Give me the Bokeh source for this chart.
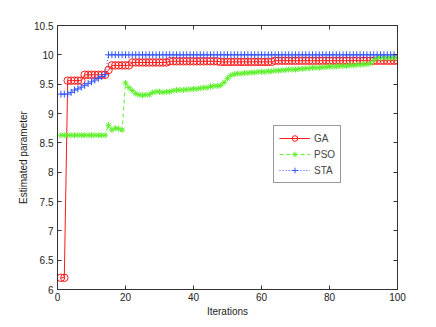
from bokeh.plotting import figure
from bokeh.models import FixedTicker, LinearAxis, Range1d, Legend, LegendItem
from bokeh.embed import file_html
from bokeh.resources import INLINE

iterations = list(range(1, 101))

ga = [6.2, 6.2,
      9.56, 9.56, 9.56, 9.56, 9.56,
      9.66, 9.66, 9.66, 9.66, 9.66, 9.66, 9.66,
      9.74,
      9.82, 9.82, 9.82, 9.82, 9.82, 9.82,
      9.87, 9.87, 9.87, 9.87, 9.87, 9.87, 9.87, 9.87, 9.87, 9.87, 9.87,
      9.89, 9.89, 9.89, 9.89, 9.89, 9.89, 9.89, 9.89, 9.89, 9.89, 9.89, 9.89, 9.89, 9.89, 9.89,
      9.88, 9.88, 9.88, 9.88, 9.88, 9.88, 9.88, 9.88, 9.88, 9.88, 9.88, 9.88, 9.88, 9.88, 9.88, 9.88,
      9.9, 9.9, 9.9, 9.9, 9.9, 9.9, 9.9, 9.9, 9.9, 9.9, 9.9, 9.9, 9.9, 9.9, 9.9, 9.9, 9.9, 9.9, 9.9,
      9.9, 9.9, 9.9, 9.9, 9.9, 9.9, 9.9, 9.9, 9.9, 9.9, 9.9, 9.9, 9.9, 9.9, 9.9, 9.9, 9.9, 9.9]

pso = [8.63, 8.63, 8.63, 8.63, 8.63, 8.63, 8.63, 8.63, 8.63, 8.63, 8.63, 8.63, 8.63, 8.63,
       8.80, 8.72, 8.75, 8.74, 8.72,
       9.52, 9.44, 9.39, 9.34,
       9.32, 9.31, 9.32, 9.32,
       9.36, 9.37, 9.37, 9.36, 9.37, 9.37,
       9.39, 9.40, 9.40, 9.40, 9.41, 9.41, 9.42, 9.42,
       9.43, 9.44, 9.44,
       9.46, 9.47, 9.47, 9.48,
       9.53, 9.60, 9.65,
       9.67, 9.68, 9.68, 9.69, 9.69,
       9.70, 9.70, 9.71, 9.71, 9.71,
       9.72, 9.72, 9.73, 9.73, 9.74, 9.74, 9.75, 9.75, 9.75, 9.76,
       9.76, 9.77, 9.77, 9.78, 9.78, 9.78, 9.79, 9.79, 9.80, 9.80,
       9.80, 9.81, 9.81, 9.81, 9.82, 9.82, 9.83, 9.83, 9.84, 9.84, 9.85,
       9.91,
       9.95, 9.95, 9.95, 9.95, 9.95, 9.95, 9.95]

sta = [9.33, 9.33, 9.33, 9.36, 9.40, 9.42, 9.45, 9.48, 9.51, 9.54, 9.57, 9.60, 9.63, 9.66] + \
      [10.0, 10.0, 10.0, 10.0, 10.0, 10.0, 10.0, 10.0, 10.0, 10.0,
       10.0, 10.0, 10.0, 10.0, 10.0, 10.0, 10.0, 10.0, 10.0, 10.0,
       10.0, 10.0, 10.0, 10.0, 10.0, 10.0, 10.0, 10.0, 10.0, 10.0,
       10.0, 10.0, 10.0, 10.0, 10.0, 10.0, 10.0, 10.0, 10.0, 10.0,
       10.0, 10.0, 10.0, 10.0, 10.0, 10.0, 10.0, 10.0, 10.0, 10.0,
       10.0, 10.0, 10.0, 10.0, 10.0, 10.0, 10.0, 10.0, 10.0, 10.0,
       10.0, 10.0, 10.0, 10.0, 10.0, 10.0, 10.0, 10.0, 10.0, 10.0,
       10.0, 10.0, 10.0, 10.0, 10.0, 10.0, 10.0, 10.0, 10.0, 10.0,
       10.0, 10.0, 10.0, 10.0, 10.0, 10.0]

x_ticks = [0, 20, 40, 60, 80, 100]
y_ticks = [6, 6.5, 7, 7.5, 8, 8.5, 9, 9.5, 10, 10.5]
y_tick_labels = ["6", "6.5", "7", "7.5", "8", "8.5", "9", "9.5", "10", "10.5"]

RED = "#ff1a1a"
GREEN = "#5cf02a"
BLUE = "#3355ff"
FONT = "Liberation Sans"

p = figure(width=428, height=319, output_backend="svg", toolbar_location=None,
           x_range=Range1d(0, 100), y_range=Range1d(6, 10.5),
           min_border_left=57, min_border_right=31, min_border_top=25, min_border_bottom=28)
p.xgrid.visible = False
p.ygrid.visible = False
p.outline_line_color = "#333333"
p.outline_line_width = 1
p.background_fill_color = "white"
p.border_fill_color = "white"

for ax in (p.xaxis[0], p.yaxis[0]):
    ax.major_tick_in = 4
    ax.major_tick_out = 0
    ax.minor_tick_in = 0
    ax.minor_tick_out = 0
    ax.axis_line_color = "#333333"
    ax.major_tick_line_color = "#333333"
    ax.major_label_text_font = FONT
    ax.major_label_text_font_size = "10px"
    ax.major_label_text_color = "#222222"
    ax.axis_label_text_font = FONT
    ax.axis_label_text_font_size = "10px"
    ax.axis_label_text_font_style = "normal"
    ax.axis_label_text_color = "#222222"

p.xaxis[0].ticker = FixedTicker(ticks=x_ticks)
p.xaxis[0].axis_label = "Iterations"
p.xaxis[0].major_label_standoff = 3
p.xaxis[0].axis_label_standoff = 2
p.yaxis[0].ticker = FixedTicker(ticks=y_ticks)
p.yaxis[0].major_label_overrides = {t: l for t, l in zip(y_ticks, y_tick_labels)}
p.yaxis[0].axis_label = "Estimated parameter"
p.yaxis[0].major_label_standoff = 4
p.yaxis[0].axis_label_standoff = 2

right = LinearAxis(ticker=FixedTicker(ticks=y_ticks),
                   major_label_overrides={t: "" for t in y_ticks},
                   major_tick_in=4, major_tick_out=0, minor_tick_in=0, minor_tick_out=0,
                   major_label_standoff=0,
                   axis_line_color="#333333", major_tick_line_color="#333333")
top = LinearAxis(ticker=FixedTicker(ticks=x_ticks),
                 major_label_overrides={t: "" for t in x_ticks},
                 major_tick_in=4, major_tick_out=0, minor_tick_in=0, minor_tick_out=0,
                 major_label_standoff=0,
                 axis_line_color="#333333", major_tick_line_color="#333333")
p.add_layout(right, "right")
p.add_layout(top, "above")

l1 = p.line(iterations, ga, line_color=RED, line_width=1)
m1 = p.scatter(iterations, ga, marker="circle", size=7.5, fill_color=None, line_color=RED, line_width=1)
l2 = p.line(iterations, pso, line_color=GREEN, line_width=1, line_dash="4 3")
m2 = p.scatter(iterations, pso, marker="asterisk", size=6, line_color=GREEN, line_width=1)
l3 = p.line(iterations, sta, line_color=BLUE, line_width=1, line_dash="1 2")
m3 = p.scatter(iterations, sta, marker="cross", size=7, line_color=BLUE, line_width=1)

legend = Legend(items=[LegendItem(label="GA", renderers=[l1, m1]),
                       LegendItem(label="PSO", renderers=[l2, m2]),
                       LegendItem(label="STA", renderers=[l3, m3])],
                location=(216, 106), orientation="vertical",
                label_text_font=FONT, label_text_font_size="10px",
                label_height=14, glyph_height=14, glyph_width=31,
                spacing=2, padding=5, margin=0, label_standoff=4,
                border_line_color="#333333", border_line_width=1,
                background_fill_color="white", background_fill_alpha=1)
p.add_layout(legend, "center")

open("out.html", "w").write(file_html(p, INLINE))
